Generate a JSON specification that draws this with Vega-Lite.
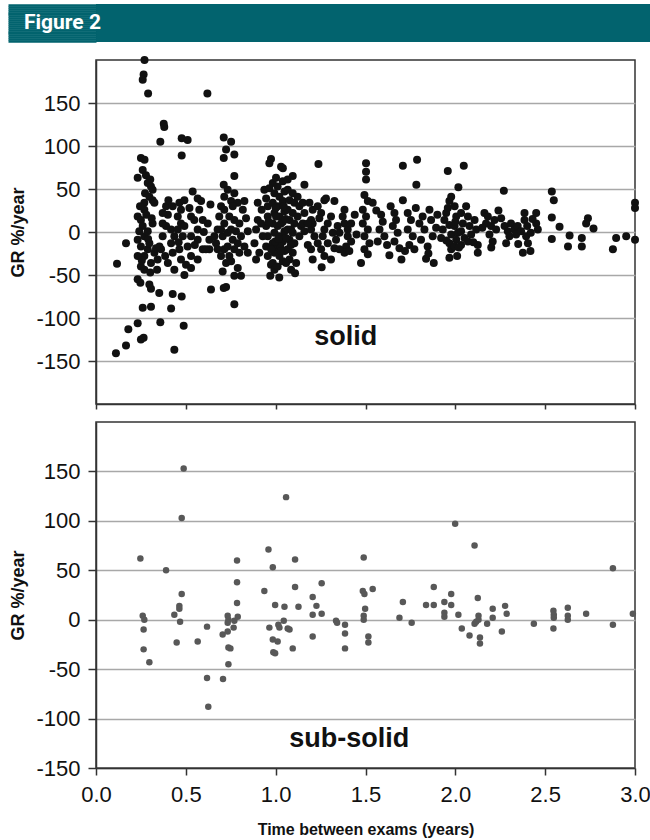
{
  "$schema": "https://vega.github.io/schema/vega-lite/v6.json",
  "background": "white",
  "padding": {"left": 6, "top": 3, "right": 0, "bottom": 0},
  "spacing": 12,
  "datasets": {
    "solid": [
      {"t":0.27,"g":200},{"t":0.265,"g":183},{"t":0.26,"g":177},{"t":0.29,"g":161},{"t":0.62,"g":161},{"t":0.377,"g":126},{"t":0.38,"g":122},{"t":0.358,"g":105},{"t":0.477,"g":109},{"t":0.51,"g":107},{"t":0.477,"g":89},{"t":0.711,"g":110},{"t":0.752,"g":105},{"t":0.724,"g":96},{"t":0.711,"g":86},{"t":0.77,"g":90},{"t":0.25,"g":86},{"t":0.27,"g":84},{"t":0.974,"g":85},{"t":0.965,"g":80},{"t":1.03,"g":76},{"t":1.04,"g":74},{"t":1.095,"g":65},{"t":1.16,"g":55},{"t":1.238,"g":79},{"t":1.503,"g":80},{"t":1.503,"g":70},{"t":1.503,"g":61},{"t":0.77,"g":65},{"t":0.711,"g":55},
      {"t":0.111,"g":-141},{"t":0.167,"g":-132},{"t":0.18,"g":-113},{"t":0.232,"g":-106},{"t":0.25,"g":-125},{"t":0.265,"g":-123},{"t":0.26,"g":-88},{"t":0.306,"g":-87},{"t":0.117,"g":-37},{"t":0.167,"g":-13},{"t":0.436,"g":-137},{"t":0.358,"g":-105},{"t":0.488,"g":-109},{"t":0.418,"g":-89},{"t":0.427,"g":-72},{"t":0.477,"g":-75},{"t":0.352,"g":-71},{"t":0.297,"g":-61},{"t":0.306,"g":-66},{"t":0.64,"g":-67},{"t":0.724,"g":-64},{"t":0.711,"g":-65},{"t":0.77,"g":-84},{"t":0.77,"g":-51},{"t":0.807,"g":-51},{"t":0.97,"g":-51},{"t":1.02,"g":-53},{"t":1.108,"g":-48},{"t":1.256,"g":-41},{"t":0.232,"g":-55},{"t":0.247,"g":-59},
      {"t":0.232,"g":63},{"t":0.26,"g":72},{"t":0.278,"g":66},{"t":0.302,"g":61},{"t":0.288,"g":57},{"t":0.306,"g":53},{"t":0.315,"g":49},{"t":0.273,"g":45},{"t":0.297,"g":41},{"t":0.315,"g":37},{"t":0.269,"g":34},{"t":0.325,"g":34},{"t":0.232,"g":18},{"t":0.25,"g":14},{"t":0.269,"g":26},{"t":0.26,"g":7},{"t":0.232,"g":-9},{"t":0.269,"g":-5},{"t":0.25,"g":-17},{"t":0.288,"g":-20},{"t":0.269,"g":-28},{"t":0.306,"g":-36},{"t":0.343,"g":-32},{"t":0.325,"g":-24},{"t":0.362,"g":-20},{"t":0.297,"g":-13},{"t":0.334,"g":-19},{"t":0.241,"g":1},{"t":0.288,"g":1},{"t":0.315,"g":10},{"t":0.269,"g":-44},{"t":0.25,"g":-40},{"t":0.302,"g":-47},{"t":0.232,"g":-28},{"t":0.34,"g":-44},{"t":0.28,"g":20},{"t":0.245,"g":30},{"t":0.29,"g":-8},{"t":0.255,"g":-33},{"t":0.31,"g":16},
      {"t":0.39,"g":30},{"t":0.4,"g":20},{"t":0.427,"g":30},{"t":0.464,"g":34},{"t":0.492,"g":37},{"t":0.538,"g":47},{"t":0.566,"g":39},{"t":0.585,"g":36},{"t":0.52,"g":28},{"t":0.529,"g":18},{"t":0.455,"g":18},{"t":0.473,"g":10},{"t":0.418,"g":3},{"t":0.39,"g":7},{"t":0.436,"g":-5},{"t":0.483,"g":-5},{"t":0.529,"g":-5},{"t":0.566,"g":3},{"t":0.566,"g":-9},{"t":0.51,"g":-17},{"t":0.464,"g":-20},{"t":0.427,"g":-24},{"t":0.473,"g":-32},{"t":0.529,"g":-28},{"t":0.566,"g":-32},{"t":0.4,"g":-36},{"t":0.436,"g":-44},{"t":0.501,"g":-38},{"t":0.529,"g":-42},{"t":0.492,"g":-50},{"t":0.631,"g":-20},{"t":0.631,"g":-9},{"t":0.622,"g":10},{"t":0.637,"g":32},{"t":0.371,"g":-5},{"t":0.353,"g":-17},{"t":0.594,"g":-20},{"t":0.371,"g":10},{"t":0.418,"g":-13},{"t":0.455,"g":3},{"t":0.492,"g":7},{"t":0.547,"g":14},{"t":0.594,"g":14},{"t":0.575,"g":26},{"t":0.403,"g":37},{"t":0.473,"g":26},{"t":0.371,"g":22},{"t":0.612,"g":-20},{"t":0.46,"g":-12},{"t":0.55,"g":-15},{"t":0.385,"g":-28},{"t":0.6,"g":0},
      {"t":0.677,"g":3},{"t":0.686,"g":18},{"t":0.696,"g":30},{"t":0.714,"g":41},{"t":0.733,"g":49},{"t":0.752,"g":36},{"t":0.77,"g":45},{"t":0.789,"g":34},{"t":0.817,"g":26},{"t":0.826,"g":36},{"t":0.714,"g":10},{"t":0.742,"g":18},{"t":0.77,"g":14},{"t":0.798,"g":10},{"t":0.705,"g":-5},{"t":0.733,"g":-1},{"t":0.761,"g":-9},{"t":0.789,"g":-13},{"t":0.714,"g":-20},{"t":0.742,"g":-28},{"t":0.77,"g":-20},{"t":0.696,"g":-28},{"t":0.724,"g":-36},{"t":0.752,"g":-34},{"t":0.798,"g":-24},{"t":0.826,"g":-17},{"t":0.845,"g":-24},{"t":0.807,"g":-5},{"t":0.668,"g":-13},{"t":0.659,"g":-5},{"t":0.677,"g":-20},{"t":0.789,"g":-42},{"t":0.705,"g":-46},{"t":0.835,"g":16},{"t":0.845,"g":1},{"t":0.714,"g":26},{"t":0.696,"g":3},{"t":0.752,"g":3},{"t":0.779,"g":1},{"t":0.733,"g":-17},{"t":0.761,"g":30},
      {"t":0.9,"g":34},{"t":0.9,"g":14},{"t":0.891,"g":3},{"t":0.882,"g":-13},{"t":0.909,"g":-24},{"t":0.891,"g":-32},
      {"t":0.937,"g":49},{"t":0.947,"g":39},{"t":0.956,"g":30},{"t":0.956,"g":18},{"t":0.947,"g":7},{"t":0.956,"g":-5},{"t":0.947,"g":-17},{"t":0.956,"g":-28},{"t":0.974,"g":-38},
      {"t":0.984,"g":57},{"t":0.993,"g":45},{"t":0.984,"g":34},{"t":0.993,"g":22},{"t":0.984,"g":10},{"t":0.993,"g":-1},{"t":0.984,"g":-13},{"t":0.993,"g":-24},{"t":0.984,"g":-36},{"t":0.993,"g":-44},
      {"t":1.011,"g":53},{"t":1.021,"g":41},{"t":1.011,"g":30},{"t":1.021,"g":18},{"t":1.011,"g":7},{"t":1.021,"g":-5},{"t":1.011,"g":-17},{"t":1.021,"g":-28},{"t":1.011,"g":-40},
      {"t":1.04,"g":59},{"t":1.049,"g":47},{"t":1.04,"g":36},{"t":1.049,"g":24},{"t":1.04,"g":12},{"t":1.049,"g":1},{"t":1.04,"g":-11},{"t":1.049,"g":-22},{"t":1.04,"g":-34},
      {"t":1.067,"g":49},{"t":1.077,"g":37},{"t":1.067,"g":26},{"t":1.077,"g":14},{"t":1.067,"g":3},{"t":1.077,"g":-9},{"t":1.067,"g":-20},{"t":1.077,"g":-32},
      {"t":1.095,"g":45},{"t":1.104,"g":34},{"t":1.095,"g":22},{"t":1.104,"g":10},{"t":1.095,"g":-1},{"t":1.104,"g":-13},{"t":1.095,"g":-24},
      {"t":1.122,"g":41},{"t":1.132,"g":30},{"t":1.122,"g":18},{"t":1.141,"g":7},{"t":1.132,"g":-5},{"t":1.114,"g":-36},
      {"t":1.151,"g":34},{"t":1.16,"g":22},{"t":1.151,"g":10},{"t":1.16,"g":1},
      {"t":0.928,"g":-5},{"t":0.919,"g":10},{"t":0.922,"g":26},{"t":1.058,"g":-7},{"t":1.086,"g":3},{"t":1.03,"g":10},{"t":1.002,"g":18},{"t":1.026,"g":-17},{"t":0.997,"g":-11},{"t":1.058,"g":-36},{"t":1.086,"g":-44},{"t":0.965,"g":51},{"t":1.067,"g":61},{"t":1.002,"g":63},
      {"t":1.0,"g":28},{"t":1.03,"g":-22},{"t":1.055,"g":15},{"t":1.015,"g":-8},{"t":0.975,"g":-20},{"t":0.96,"g":12},{"t":1.045,"g":30},{"t":1.085,"g":-15},
      {"t":1.188,"g":34},{"t":1.206,"g":26},{"t":1.234,"g":30},{"t":1.253,"g":22},{"t":1.271,"g":37},{"t":1.28,"g":39},{"t":1.327,"g":36},{"t":1.383,"g":26},{"t":1.383,"g":10},{"t":1.373,"g":18},{"t":1.401,"g":3},{"t":1.401,"g":-5},{"t":1.392,"g":-17},{"t":1.383,"g":-24},{"t":1.41,"g":-22},{"t":1.336,"g":-9},{"t":1.327,"g":-19},{"t":1.308,"g":-32},{"t":1.271,"g":-28},{"t":1.253,"g":-20},{"t":1.234,"g":-13},{"t":1.216,"g":-5},{"t":1.197,"g":3},{"t":1.206,"g":10},{"t":1.197,"g":-20},{"t":1.206,"g":-32},{"t":1.179,"g":-15},{"t":1.271,"g":3},{"t":1.29,"g":10},{"t":1.308,"g":18},{"t":1.345,"g":7},{"t":1.355,"g":-1},{"t":1.262,"g":-5},{"t":1.197,"g":14},{"t":1.243,"g":16},{"t":1.318,"g":-1},{"t":1.355,"g":-20},{"t":1.42,"g":-11},{"t":1.42,"g":10},{"t":1.29,"g":-13},{"t":1.179,"g":10},{"t":1.44,"g":20},{"t":1.45,"g":-3},
      {"t":1.494,"g":43},{"t":1.513,"g":36},{"t":1.54,"g":34},{"t":1.485,"g":26},{"t":1.503,"g":18},{"t":1.485,"g":10},{"t":1.513,"g":3},{"t":1.494,"g":-5},{"t":1.522,"g":-13},{"t":1.494,"g":-20},{"t":1.513,"g":-26},{"t":1.475,"g":-36},
      {"t":1.587,"g":20},{"t":1.596,"g":12},{"t":1.578,"g":3},{"t":1.605,"g":-5},{"t":1.568,"g":-11},
      {"t":1.633,"g":-27},{"t":1.661,"g":22},{"t":1.67,"g":14},{"t":1.652,"g":7},{"t":1.679,"g":-1},{"t":1.661,"g":-11},{"t":1.689,"g":-19},{"t":1.7,"g":-32},{"t":1.708,"g":37},{"t":1.708,"g":77},
      {"t":1.735,"g":22},{"t":1.753,"g":14},{"t":1.735,"g":3},{"t":1.763,"g":-5},{"t":1.744,"g":-15},{"t":1.772,"g":-20},{"t":1.783,"g":55},{"t":1.787,"g":84},
      {"t":1.8,"g":10},{"t":1.818,"g":18},{"t":1.828,"g":3},{"t":1.809,"g":-9},{"t":1.837,"g":-31},{"t":1.846,"g":-17},{"t":1.856,"g":26},{"t":1.865,"g":14},{"t":1.88,"g":-36},{"t":1.874,"g":-5},{"t":1.893,"g":5},
      {"t":1.921,"g":-7},{"t":1.93,"g":3},{"t":1.939,"g":14},{"t":1.949,"g":22},{"t":1.958,"g":28},{"t":1.967,"g":36},{"t":1.977,"g":41},{"t":1.958,"g":71},{"t":1.967,"g":8},{"t":1.977,"g":-3},{"t":1.967,"g":-13},{"t":1.977,"g":-20},{"t":1.967,"g":-30},
      {"t":1.996,"g":30},{"t":2.005,"g":18},{"t":1.996,"g":7},{"t":2.014,"g":-1},{"t":2.005,"g":-9},{"t":1.996,"g":-17},{"t":2.01,"g":-28},{"t":2.017,"g":52},{"t":2.047,"g":77},{"t":2.032,"g":22},{"t":2.042,"g":10},{"t":2.032,"g":1},{"t":2.051,"g":-7},{"t":2.032,"g":-15},
      {"t":2.07,"g":18},{"t":2.079,"g":7},{"t":2.088,"g":-3},{"t":2.07,"g":-11},{"t":2.107,"g":14},{"t":2.116,"g":3},{"t":2.125,"g":-24},{"t":2.125,"g":-15},
      {"t":2.162,"g":22},{"t":2.181,"g":18},{"t":2.171,"g":10},{"t":2.199,"g":7},{"t":2.19,"g":-3},{"t":2.218,"g":14},{"t":2.227,"g":3},{"t":2.208,"g":-11},{"t":2.27,"g":48},{"t":2.255,"g":16},{"t":2.274,"g":7},{"t":2.292,"g":1},{"t":2.301,"g":-5},{"t":2.283,"g":-13},{"t":2.31,"g":10},{"t":2.329,"g":3},{"t":2.338,"g":-3},{"t":2.347,"g":7},{"t":2.366,"g":1},{"t":2.376,"g":-24},{"t":2.385,"g":22},{"t":2.385,"g":14},{"t":2.394,"g":-5},{"t":2.404,"g":-13},{"t":2.418,"g":-22},{"t":2.42,"g":-1},{"t":2.45,"g":22},{"t":2.45,"g":10},{"t":2.459,"g":3},{"t":2.4,"g":7},
      {"t":2.537,"g":47},{"t":2.548,"g":37},{"t":2.537,"g":17},{"t":2.58,"g":6},{"t":2.537,"g":-8},{"t":2.636,"g":-4},{"t":2.627,"g":-17},{"t":2.704,"g":-7},{"t":2.704,"g":-17},{"t":2.738,"g":16},{"t":2.728,"g":10},{"t":2.769,"g":4},{"t":2.877,"g":-20},{"t":2.895,"g":-7},{"t":2.951,"g":-5},{"t":3.0,"g":34},{"t":3.0,"g":28},{"t":3.0,"g":-9},
      {"t":1.56,"g":25},{"t":1.62,"g":-15},{"t":1.64,"g":30},{"t":1.72,"g":-22},{"t":1.78,"g":28},{"t":1.85,"g":-25},{"t":1.9,"g":20},{"t":1.95,"g":-10},{"t":2.0,"g":12},{"t":2.02,"g":-18},{"t":2.06,"g":30},{"t":2.1,"g":-12},{"t":2.15,"g":5},{"t":2.2,"g":-18},{"t":2.24,"g":25},{"t":2.35,"g":-14},{"t":2.43,"g":15}
    ],
    "sub": [
      {"t":0.247,"g":62},{"t":0.26,"g":4},{"t":0.269,"g":0},{"t":0.265,"g":-10},{"t":0.265,"g":-30},{"t":0.297,"g":-43},{"t":0.39,"g":50},{"t":0.436,"g":5},{"t":0.464,"g":14},{"t":0.464,"g":11},{"t":0.477,"g":26},{"t":0.468,"g":-2},{"t":0.449,"g":-23},{"t":0.488,"g":153},{"t":0.477,"g":103},{"t":0.566,"g":-22},{"t":0.618,"g":-7},{"t":0.618,"g":-59},{"t":0.625,"g":-88},{"t":0.707,"g":-60},{"t":0.705,"g":-15},{"t":0.733,"g":-12},{"t":0.733,"g":4},{"t":0.737,"g":0},{"t":0.733,"g":-3},{"t":0.737,"g":-28},{"t":0.748,"g":-29},{"t":0.737,"g":-45},{"t":0.766,"g":-8},{"t":0.77,"g":-1},{"t":0.785,"g":60},{"t":0.785,"g":38},{"t":0.785,"g":17},{"t":0.789,"g":3},{"t":0.937,"g":29},{"t":0.96,"g":71},{"t":0.984,"g":53},{"t":0.997,"g":15},{"t":0.965,"g":-8},{"t":0.984,"g":-20},{"t":1.011,"g":-22},{"t":0.987,"g":-33},{"t":0.997,"g":-34},{"t":1.015,"g":-5},{"t":1.021,"g":-8},{"t":1.049,"g":13},{"t":1.045,"g":-1},{"t":1.067,"g":-9},{"t":1.077,"g":-10},{"t":1.058,"g":124},{"t":1.095,"g":-29},{"t":1.108,"g":33},{"t":1.108,"g":61},{"t":1.127,"g":13},{"t":1.206,"g":23},{"t":1.227,"g":14},{"t":1.256,"g":6},{"t":1.256,"g":37},{"t":1.206,"g":5},{"t":1.206,"g":-17},{"t":1.336,"g":-1},{"t":1.342,"g":-3},{"t":1.386,"g":-5},{"t":1.386,"g":-14},{"t":1.386,"g":-29},{"t":1.49,"g":63},{"t":1.485,"g":29},{"t":1.494,"g":26},{"t":1.498,"g":11},{"t":1.49,"g":4},{"t":1.49,"g":0},{"t":1.516,"g":-17},{"t":1.516,"g":-23},{"t":1.54,"g":31},{"t":1.689,"g":2},{"t":1.708,"g":18},{"t":1.757,"g":-3},{"t":1.837,"g":15},{"t":1.88,"g":15},{"t":1.88,"g":33},{"t":1.939,"g":18},{"t":1.939,"g":7},{"t":1.939,"g":3},{"t":1.977,"g":26},{"t":1.977,"g":15},{"t":1.999,"g":97},{"t":2.017,"g":5},{"t":2.036,"g":-9},{"t":2.079,"g":-16},{"t":2.107,"g":75},{"t":2.125,"g":22},{"t":2.129,"g":4},{"t":2.129,"g":0},{"t":2.107,"g":-4},{"t":2.116,"g":-2},{"t":2.137,"g":-18},{"t":2.137,"g":-24},{"t":2.177,"g":-4},{"t":2.208,"g":11},{"t":2.208,"g":2},{"t":2.259,"g":-12},{"t":2.277,"g":14},{"t":2.286,"g":6},{"t":2.437,"g":-4},{"t":2.546,"g":9},{"t":2.548,"g":5},{"t":2.548,"g":2},{"t":2.546,"g":-9},{"t":2.626,"g":12},{"t":2.626,"g":4},{"t":2.626,"g":0},{"t":2.728,"g":6},{"t":2.877,"g":52},{"t":2.877,"g":-5},{"t":2.988,"g":6}
    ]
  },
  "vconcat": [
    {
      "width": 555,
      "height": 38,
      "view": {"fill": "#02636e", "stroke": null},
      "data": {"values": [{"label": "Figure 2"}]},
      "mark": {"type": "text", "align": "left", "baseline": "middle", "dx": -72, "color": "white", "font": "Roboto", "fontWeight": "bold", "fontSize": 21},
      "encoding": {
        "x": {"datum": 0, "type": "quantitative", "scale": {"domain": [0, 1]}, "axis": null},
        "y": {"datum": 0.5, "type": "quantitative", "scale": {"domain": [0, 1]}, "axis": {"values": [0.025, 0.075, 0.125, 0.175, 0.225, 0.275, 0.325, 0.375, 0.425, 0.475, 0.525, 0.575, 0.625, 0.675, 0.725, 0.775, 0.825, 0.875, 0.925, 0.975], "domain": false, "labels": false, "grid": false, "title": null, "ticks": true, "tickSize": 88, "tickWidth": 2.6, "tickColor": "#02636e", "tickCap": "butt"}},
        "text": {"field": "label"}
      }
    },
    {
      "spacing": 10,
      "vconcat": [
        {
          "width": 539,
          "height": 344,
          "layer": [
            {
              "data": {"name": "solid"},
              "mark": {"type": "circle", "size": 64, "color": "#111111", "opacity": 1},
              "encoding": {
                "x": {"field": "t", "type": "quantitative", "scale": {"domain": [0, 3], "nice": false}, "axis": {"values": [0, 0.5, 1, 1.5, 2, 2.5, 3], "labels": false, "tickSize": 5, "title": null}},
                "y": {"field": "g", "type": "quantitative", "scale": {"domain": [-200, 200], "nice": false}, "axis": {"values": [-150, -100, -50, 0, 50, 100, 150], "title": "GR %/year", "labelExpr": "replace(datum.label, '\u2212', '-')"}}
              }
            },
            {
              "data": {"values": [{"t": 1.39, "g": -122, "label": "solid"}]},
              "mark": {"type": "text", "align": "center", "baseline": "middle", "fontSize": 27, "fontWeight": "bold", "font": "Liberation Sans", "color": "#111111"},
              "encoding": {
                "x": {"field": "t", "type": "quantitative"},
                "y": {"field": "g", "type": "quantitative"},
                "text": {"field": "label"}
              }
            }
          ]
        },
        {
          "width": 539,
          "height": 346,
          "layer": [
            {
              "data": {"name": "sub"},
              "mark": {"type": "circle", "size": 42, "color": "#585858", "opacity": 1},
              "encoding": {
                "x": {"field": "t", "type": "quantitative", "scale": {"domain": [0, 3], "nice": false}, "axis": {"values": [0, 0.5, 1, 1.5, 2, 2.5, 3], "format": ".1f", "title": "Time between exams (years)"}},
                "y": {"field": "g", "type": "quantitative", "scale": {"domain": [-150, 200], "nice": false}, "axis": {"values": [-150, -100, -50, 0, 50, 100, 150], "title": "GR %/year", "labelExpr": "replace(datum.label, '\u2212', '-')"}}
              }
            },
            {
              "data": {"values": [{"t": 1.41, "g": -121, "label": "sub-solid"}]},
              "mark": {"type": "text", "align": "center", "baseline": "middle", "fontSize": 27, "fontWeight": "bold", "font": "Liberation Sans", "color": "#111111"},
              "encoding": {
                "x": {"field": "t", "type": "quantitative"},
                "y": {"field": "g", "type": "quantitative"},
                "text": {"field": "label"}
              }
            }
          ]
        }
      ]
    }
  ],
  "config": {
    "view": {"stroke": "#333333", "strokeWidth": 1.5},
    "axis": {
      "domainColor": "#333333", "domainWidth": 1.5,
      "tickColor": "#333333", "tickWidth": 1.5,
      "gridColor": "#a8a8a8", "gridWidth": 1.5,
      "labelFont": "Liberation Sans", "labelFontSize": 22, "labelColor": "#111111", "labelFlush": false,
      "titleFont": "Liberation Sans", "titleFontWeight": "bold", "titleColor": "#111111"
    },
    "axisY": {"grid": true, "tickSize": 8, "labelPadding": 8, "titleFontSize": 18, "titlePadding": 8},
    "axisX": {"grid": false, "tickSize": 7, "labelPadding": 9, "titleFontSize": 16, "titlePadding": 16}
  }
}
